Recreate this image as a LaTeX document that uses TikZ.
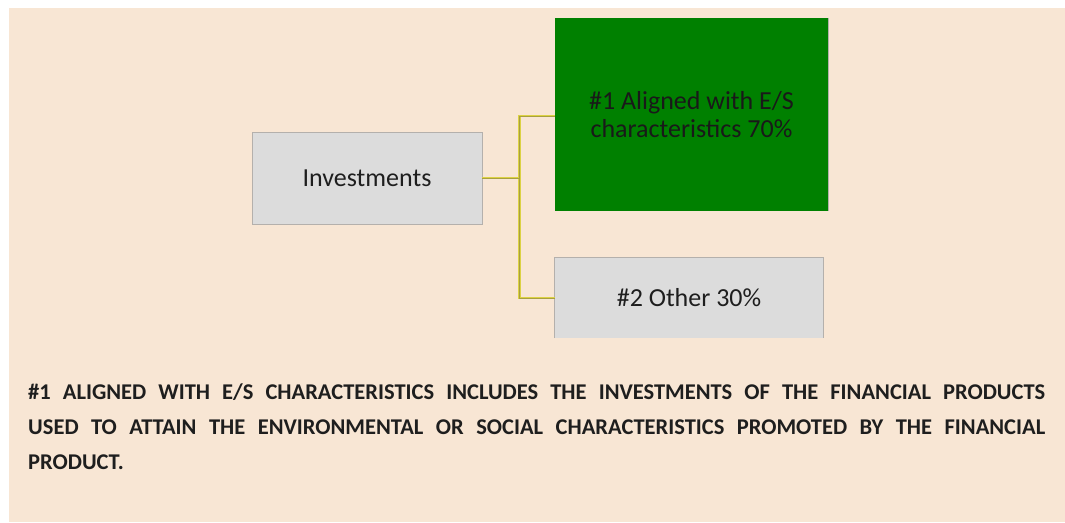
\documentclass[tikz,border=0pt]{standalone}
\usepackage{fontspec}
\setmainfont{Carlito}
\usetikzlibrary{calc}
\definecolor{bg}{HTML}{F8E6D4}
\definecolor{boxgrey}{HTML}{DCDCDC}
\definecolor{boxline}{HTML}{B4B0AC}
\definecolor{leaf}{HTML}{008000}
\definecolor{connlight}{HTML}{DCD244}
\definecolor{conndark}{HTML}{A8A040}
\definecolor{txt}{HTML}{1E1E1E}
\begin{document}
\begin{tikzpicture}[x=1pt,y=-1pt,
  boxtxt/.style={font=\fontsize{26}{28}\selectfont, text=txt, align=center, inner sep=0pt},
  conn/.style={draw=connlight, line width=2.6pt},
  conncore/.style={draw=conndark, line width=1pt}]
\useasboundingbox (0,0) rectangle (1065,522);
\fill[bg] (9,8) rectangle (1065,522);
% boxes
\node[draw=boxline, fill=boxgrey, line width=0.8pt, minimum width=230pt, minimum height=92pt, inner sep=0pt] (inv) at (367,178) {};
\node[boxtxt] at (inv.center) {Investments};
\node[fill=leaf, minimum width=273pt, minimum height=193pt, inner sep=0pt] (green) at (691.5,114.5) {};
\draw[boxline, line width=1pt] (green.north east) -- (green.south east);
\node[boxtxt, text=black!90] at (green.center) {\#1 Aligned with E/S\\characteristics 70\%};
\node[fill=boxgrey, minimum width=268pt, minimum height=80pt, inner sep=0pt] (other) at (689,298) {};
\draw[boxline, line width=0.8pt] (other.south west) -- (other.north west) -- (other.north east) -- (other.south east);
\node[boxtxt] at (other.center) {\#2 Other 30\%};
% connectors
\coordinate (j) at ($(inv.east)+(37,0)$);
\coordinate (ga) at (green.west |- 0,116);
\coordinate (oa) at (other.west);
\draw[conn] (inv.east) -- (j);
\draw[conn] (ga) -| (j |- oa) -- (oa);
\draw[conncore] (inv.east) -- (j);
\draw[conncore] (ga) -| (j |- oa) -- (oa);
% caption
\node[anchor=north west, inner sep=0pt, text width=1017pt, align=justify, text=txt,
      font=\fontsize{22.5}{35}\selectfont\bfseries] (cap) at (28,375)
  {\strut\#1 ALIGNED WITH E/S CHARACTERISTICS INCLUDES THE INVESTMENTS OF THE FINANCIAL PRODUCTS\linebreak USED TO ATTAIN THE ENVIRONMENTAL OR SOCIAL CHARACTERISTICS PROMOTED BY THE FINANCIAL\linebreak PRODUCT.};
\end{tikzpicture}
\end{document}
